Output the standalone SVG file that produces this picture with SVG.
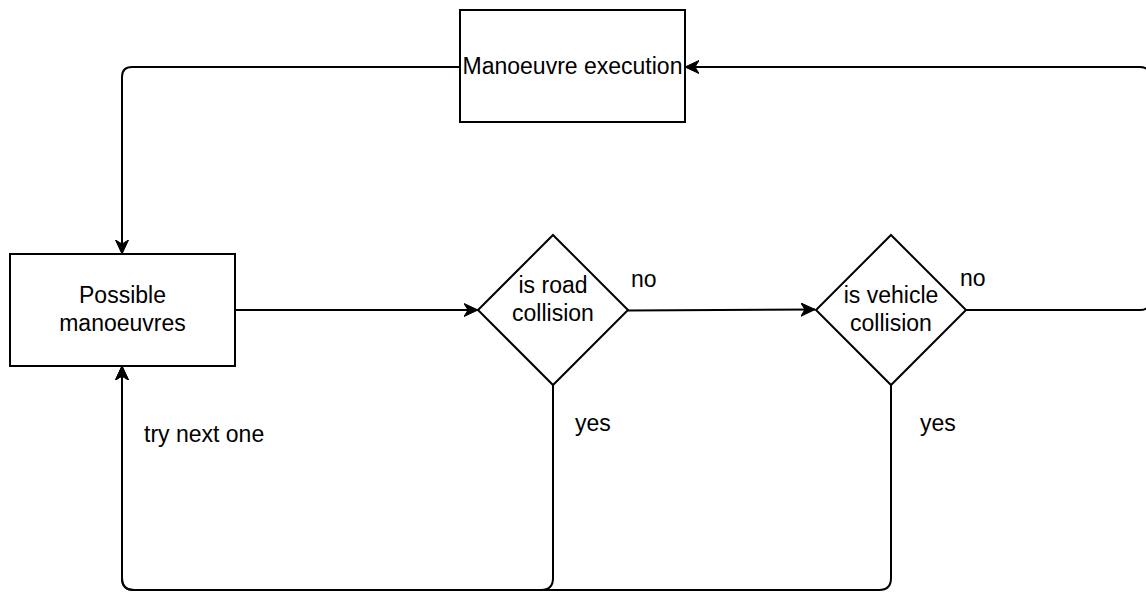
<svg xmlns="http://www.w3.org/2000/svg" width="1146" height="592" viewBox="0 0 1146 592">
  <defs>
    <marker id="arrow" markerUnits="userSpaceOnUse" markerWidth="16" markerHeight="14" refX="14" refY="7" orient="auto">
      <path d="M14,7 L0,0.5 L4,7 L0,13.5 Z" fill="#000" stroke="#000" stroke-width="1"/>
    </marker>
  </defs>
  <style>
    .shape { fill: #fff; stroke: #000; stroke-width: 2; }
    .edge { fill: none; stroke: #000; stroke-width: 2; }
    .label { font-family: "Liberation Sans", Arial, Helvetica, sans-serif; font-size: 23px; fill: #000; }
    .mid { text-anchor: middle; }
  </style>
  <rect width="1146" height="592" fill="#fff"/>

  <g id="connectors">
    <!-- execution -> possible manoeuvres -->
    <path class="edge" d="M460,67 L132,67 Q122,67 122,77 L122,254" marker-end="url(#arrow)"/>
    <!-- possible manoeuvres -> road check -->
    <path class="edge" d="M235,310 L478,310" marker-end="url(#arrow)"/>
    <!-- road check: no -> vehicle check -->
    <path class="edge" d="M628,310.5 L815,309.5" marker-end="url(#arrow)"/>
    <!-- vehicle check: no -> execution -->
    <path class="edge" d="M966,310 L1140,310 Q1150,310 1150,300 L1150,77 Q1150,67 1140,67 L685,67" marker-end="url(#arrow)"/>
    <!-- road check: yes -> try next one -->
    <path class="edge" d="M553,385 L553,578 Q553,590 541,590 L134,590 Q122,590 122,578 L122,366" marker-end="url(#arrow)"/>
    <!-- vehicle check: yes -> try next one -->
    <path class="edge" d="M891,385 L891,578 Q891,590 879,590 L134,590 Q122,590 122,578 L122,366" marker-end="url(#arrow)"/>
    <text class="label" x="631" y="287">no</text>
    <text class="label" x="960" y="286">no</text>
    <text class="label" x="575" y="431">yes</text>
    <text class="label" x="920" y="431">yes</text>
    <text class="label" x="144" y="442">try next one</text>
  </g>

  <g id="manoeuvre-execution">
    <rect class="shape" x="460" y="10" width="225" height="112"/>
    <text class="label mid" x="572.5" y="74">Manoeuvre execution</text>
  </g>

  <g id="possible-manoeuvres">
    <rect class="shape" x="10" y="254" width="225" height="112"/>
    <text class="label mid" x="122.5" y="303">Possible</text>
    <text class="label mid" x="122.5" y="331">manoeuvres</text>
  </g>

  <g id="road-collision">
    <polygon class="shape" points="553,235 628,310 553,385 478,310"/>
    <text class="label mid" x="553" y="293">is road</text>
    <text class="label mid" x="553" y="321">collision</text>
  </g>

  <g id="vehicle-collision">
    <polygon class="shape" points="891,235 966,310 891,385 816,310"/>
    <text class="label mid" x="891" y="303">is vehicle</text>
    <text class="label mid" x="891" y="331">collision</text>
  </g>
</svg>
